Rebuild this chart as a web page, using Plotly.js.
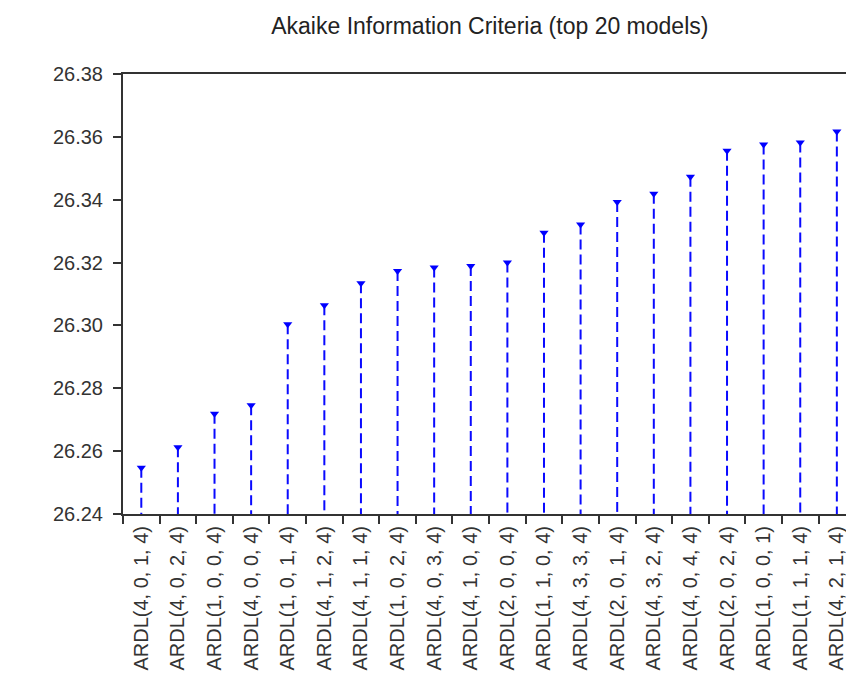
<!DOCTYPE html>
<html>
<head>
<meta charset="utf-8">
<script src="https://cdn.plot.ly/plotly-3.0.1.min.js"></script>
<style>
html,body{margin:0;padding:0;background:#fff;overflow:hidden;}
#chart{width:846px;height:678px;}
</style>
</head>
<body>
<div id="chart"></div>
<script>
var models = [
  "ARDL(4, 0, 1, 4)", "ARDL(4, 0, 2, 4)", "ARDL(1, 0, 0, 4)", "ARDL(4, 0, 0, 4)",
  "ARDL(1, 0, 1, 4)", "ARDL(4, 1, 2, 4)", "ARDL(4, 1, 1, 4)", "ARDL(1, 0, 2, 4)",
  "ARDL(4, 0, 3, 4)", "ARDL(4, 1, 0, 4)", "ARDL(2, 0, 0, 4)", "ARDL(1, 1, 0, 4)",
  "ARDL(4, 3, 3, 4)", "ARDL(2, 0, 1, 4)", "ARDL(4, 3, 2, 4)", "ARDL(4, 0, 4, 4)",
  "ARDL(2, 0, 2, 4)", "ARDL(1, 0, 0, 1)", "ARDL(1, 1, 1, 4)", "ARDL(4, 2, 1, 4)"
];
var aicValues = [
  26.2547, 26.2612, 26.2719, 26.2746, 26.3004, 26.3064, 26.3134, 26.3173,
  26.3184, 26.3189, 26.3200, 26.3295, 26.3321, 26.3393, 26.3419, 26.3473,
  26.3556, 26.3576, 26.3582, 26.3617
];
var yTicks = [26.24, 26.26, 26.28, 26.30, 26.32, 26.34, 26.36, 26.38];
var yTickText = ["26.24", "26.26", "26.28", "26.30", "26.32", "26.34", "26.36", "26.38"];
var baseline = 26.24;

var stemX = [], stemY = [];
models.forEach(function (m, i) {
  stemX.push(m, m, null);
  stemY.push(aicValues[i], baseline, null);
});

var stems = {
  type: "scatter", mode: "lines", x: stemX, y: stemY,
  line: {color: "#0a0aff", width: 2, dash: "10px,5px"},
  connectgaps: false, hoverinfo: "skip", showlegend: false
};
var markers = {
  type: "scatter", mode: "markers", x: models, y: aicValues,
  marker: {symbol: "triangle-down", size: 8, color: "#0000ff"},
  hoverinfo: "skip", showlegend: false
};

var layout = {
  width: 846, height: 678,
  margin: {l: 123, r: 0, t: 74, b: 164},
  paper_bgcolor: "#ffffff", plot_bgcolor: "#ffffff",
  font: {family: "Liberation Sans, Arial, sans-serif", color: "#333333"},
  title: {
    text: "Akaike Information Criteria (top 20 models)",
    font: {size: 23, color: "#222222", family: "Liberation Sans, Arial, sans-serif"},
    xref: "container", x: 0.579, xanchor: "center",
    yref: "container", y: 0.962, yanchor: "middle"
  },
  xaxis: {
    type: "category", categoryorder: "array", categoryarray: models,
    range: [-0.5, 19.25],
    showgrid: false, zeroline: false,
    showline: true, linecolor: "#333333", linewidth: 2, mirror: true,
    ticks: "outside", ticklen: 8, tickwidth: 2, tickcolor: "#333333",
    tickson: "boundaries",
    tickangle: -90, tickfont: {size: 20, color: "#333333"},
    ticklabelstandoff: 2,
    automargin: false, fixedrange: true
  },
  yaxis: {
    range: [26.24, 26.38],
    tickvals: yTicks, ticktext: yTickText,
    showgrid: false, zeroline: false,
    showline: true, linecolor: "#333333", linewidth: 2, mirror: false,
    ticks: "outside", ticklen: 8, tickwidth: 2, tickcolor: "#333333",
    tickfont: {size: 20, color: "#333333"},
    ticklabelstandoff: 6,
    automargin: false, fixedrange: true
  }
};

Plotly.newPlot("chart", [stems, markers], layout, {staticPlot: true, displayModeBar: false});
</script>
</body>
</html>
